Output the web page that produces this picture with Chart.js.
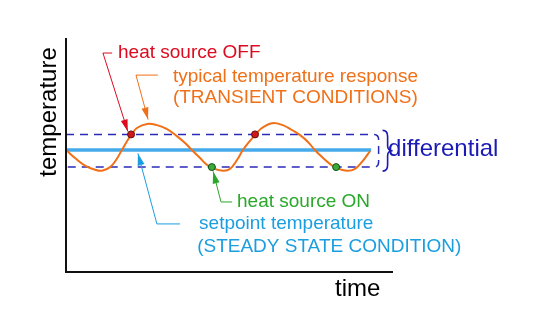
<!DOCTYPE html>
<html>
<head>
<meta charset="utf-8">
<script src="https://cdn.jsdelivr.net/npm/chart.js@4.4.1/dist/chart.umd.min.js"></script>
<style>
  html, body { margin: 0; padding: 0; background: #fff; }
  canvas { display: block; }
</style>
</head>
<body>
<canvas id="chart" width="534" height="326"></canvas>
<script>
// time / temperature readings of the transient response
const times = [0, 2.75, 5.8, 8.9, 11.0, 13.5, 15.3, 17.1, 18.7, 19.9, 21.7, 24.8, 27.8, 30.9, 33.9, 36.4,
  38.5, 41.0, 42.8, 44.6, 48.0, 50.2, 52.3, 54.1, 56.0, 57.8, 59.9, 63.0, 66.1, 69.1, 71.6, 74.0,
  76.1, 78.3, 80.7, 82.6, 85.9, 88.4, 90.5, 93.0];
const temps = [50.0, 46.7, 43.6, 41.9, 41.5, 43.0, 45.9, 50.0, 53.7, 56.1, 59.0, 60.7, 60.2, 58.6, 55.7, 52.9,
  50.0, 46.7, 44.3, 42.7, 41.5, 42.3, 45.9, 50.0, 53.3, 56.1, 59.0, 61.0, 60.3, 58.2, 56.1, 53.3,
  50.0, 47.1, 44.3, 42.7, 41.5, 42.3, 45.1, 49.6];

const setpoint = 50;
const setpointTimes = [0, 93.3];
const upperLimit = 56.4;
const lowerLimit = 43;
const differentialEnd = 95.6;

const offTimes = [19.9, 57.8];   // heat source OFF
const onTimes = [44.6, 82.6];    // heat source ON

const curve = times.map((t, i) => ({x: t, y: temps[i]}));
const setpointLine = setpointTimes.map(t => ({x: t, y: setpoint}));

const red = '#dc0a1e';
const orange = '#f07018';
const green = '#2aa82a';
const lightBlue = '#1a9ee0';
const darkBlue = '#1a1ab4';

// labels and leader arrows, in time/temperature units
const labels = [
  {text: 'heat source OFF', x: 15.9, y: 89.75, color: red},
  {text: 'typical temperature response', x: 32.7, y: 79.9, color: orange},
  {text: '(TRANSIENT CONDITIONS)', x: 32.7, y: 71.3, color: orange},
  {text: 'heat source ON', x: 52.3, y: 28.7, color: green},
  {text: 'setpoint temperature', x: 40.7, y: 19.7, color: lightBlue},
  {text: '(STEADY STATE CONDITION)', x: 40.1, y: 10.2, color: lightBlue}
];
const arrows = [
  {pts: [[14.1, 89.75], [11.3, 89.75], [18.9, 57.6]], color: red},
  {pts: [[28.1, 80.7], [21.4, 80.7], [25.1, 62.5]], color: orange},
  {pts: [[50.8, 28.7], [47.4, 28.7], [45.0, 41.2]], color: green},
  {pts: [[34.9, 19.7], [27.8, 19.7], [22.0, 48.6]], color: lightBlue}
];

function drawArrow(ctx, pts, color) {
  ctx.save();
  ctx.strokeStyle = color;
  ctx.fillStyle = color;
  ctx.lineWidth = 1;
  ctx.beginPath();
  ctx.moveTo(pts[0][0], pts[0][1]);
  for (let i = 1; i < pts.length; i++) ctx.lineTo(pts[i][0], pts[i][1]);
  ctx.stroke();
  const [ax, ay] = pts[pts.length - 2];
  const [bx, by] = pts[pts.length - 1];
  const ang = Math.atan2(by - ay, bx - ax);
  const len = 12, half = 3.5;
  ctx.beginPath();
  ctx.moveTo(bx, by);
  ctx.lineTo(bx - len * Math.cos(ang) + half * Math.sin(ang), by - len * Math.sin(ang) - half * Math.cos(ang));
  ctx.lineTo(bx - len * Math.cos(ang) - half * Math.sin(ang), by - len * Math.sin(ang) + half * Math.cos(ang));
  ctx.closePath();
  ctx.fill();
  ctx.restore();
}

const diagram = {
  id: 'diagram',
  beforeDatasetsDraw(chart) {
    const {ctx, chartArea, scales: {x, y}} = chart;
    const top = y.getPixelForValue(upperLimit);
    const bot = y.getPixelForValue(lowerLimit);
    const right = x.getPixelForValue(differentialEnd);
    const r = 5;
    ctx.save();
    ctx.strokeStyle = '#2a2ab8';
    ctx.lineWidth = 1.5;
    ctx.setLineDash([8, 6]);
    ctx.beginPath();
    ctx.moveTo(chartArea.left, top);
    ctx.lineTo(right - r, top);
    ctx.quadraticCurveTo(right, top, right, top + r);
    ctx.lineTo(right, bot - r);
    ctx.quadraticCurveTo(right, bot, right - r, bot);
    ctx.lineTo(chartArea.left, bot);
    ctx.stroke();
    ctx.restore();
  },
  afterDatasetsDraw(chart) {
    const {ctx, chartArea, scales: {x, y}} = chart;
    const px = v => x.getPixelForValue(v);
    const py = v => y.getPixelForValue(v);

    // axes
    ctx.save();
    ctx.strokeStyle = '#111';
    ctx.lineWidth = 2;
    ctx.beginPath();
    ctx.moveTo(chartArea.left, chartArea.top - 1);
    ctx.lineTo(chartArea.left, chartArea.bottom);
    ctx.lineTo(chartArea.right, chartArea.bottom);
    ctx.stroke();

    ctx.fillStyle = '#000';
    ctx.font = '24px "Liberation Sans", Arial, sans-serif';
    ctx.textBaseline = 'middle';
    ctx.textAlign = 'left';
    ctx.fillText('time', px(82.3), py(-7));
    ctx.save();
    ctx.translate(px(-5.2), py(65.6));
    ctx.rotate(-Math.PI / 2);
    ctx.textAlign = 'center';
    ctx.fillText('temperature', 0, 0);
    ctx.restore();

    // differential brace
    const top = py(upperLimit) - 4, bot = py(lowerLimit) + 4, mid = (top + bot) / 2;
    const bx = px(differentialEnd) + 4;
    ctx.strokeStyle = darkBlue;
    ctx.lineWidth = 1.6;
    ctx.beginPath();
    ctx.moveTo(bx, top);
    ctx.quadraticCurveTo(bx + 5, top, bx + 5, top + 6);
    ctx.lineTo(bx + 5, mid - 5);
    ctx.quadraticCurveTo(bx + 5, mid, bx + 10, mid);
    ctx.quadraticCurveTo(bx + 5, mid, bx + 5, mid + 5);
    ctx.lineTo(bx + 5, bot - 6);
    ctx.quadraticCurveTo(bx + 5, bot, bx, bot);
    ctx.stroke();
    ctx.fillStyle = darkBlue;
    ctx.font = '24px "Liberation Sans", Arial, sans-serif';
    ctx.fillText('differential', px(98.5), py(50.4));

    // annotations
    ctx.font = '19px "Liberation Sans", Arial, sans-serif';
    labels.forEach(l => {
      ctx.fillStyle = l.color;
      ctx.fillText(l.text, px(l.x), py(l.y));
    });
    ctx.restore();
    arrows.forEach(a => drawArrow(ctx, a.pts.map(p => [px(p[0]), py(p[1])]), a.color));
  }
};

new Chart(document.getElementById('chart'), {
  type: 'line',
  data: {
    datasets: [
      {
        data: offTimes.map(t => ({x: t, y: upperLimit})),
        showLine: false,
        pointRadius: 3.5,
        pointBackgroundColor: '#d01818',
        pointBorderColor: '#5a1010',
        pointBorderWidth: 1
      },
      {
        data: onTimes.map(t => ({x: t, y: lowerLimit})),
        showLine: false,
        pointRadius: 3.5,
        pointBackgroundColor: '#3aaa3a',
        pointBorderColor: '#145014',
        pointBorderWidth: 1
      },
      {
        data: curve,
        borderColor: orange,
        borderWidth: 2,
        pointRadius: 0,
        tension: 0.4
      },
      {
        data: setpointLine,
        borderColor: '#45aaea',
        borderWidth: 3.5,
        pointRadius: 0
      }
    ]
  },
  options: {
    responsive: false,
    animation: false,
    events: [],
    layout: {padding: {left: 66, right: 141, top: 39, bottom: 54}},
    plugins: {legend: {display: false}, tooltip: {enabled: false}},
    scales: {
      x: {type: 'linear', min: 0, max: 100, display: false},
      y: {type: 'linear', min: 0, max: 95.5, display: false}
    }
  },
  plugins: [diagram]
});
</script>
</body>
</html>
